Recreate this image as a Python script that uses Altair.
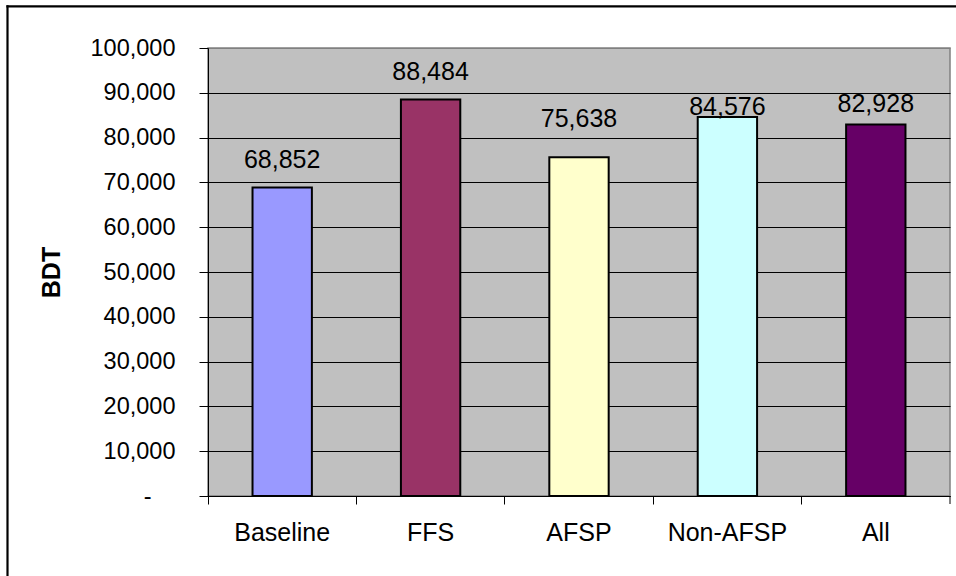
import altair as alt
import pandas as pd

# Mean household income by group (BDT)
groups = ["Baseline", "FFS", "AFSP", "Non-AFSP", "All"]
income = [68852, 88484, 75638, 84576, 82928]
bar_colors = ["#9999FF", "#993366", "#FFFFCC", "#CCFFFF", "#660066"]
y_ticks = [0, 10000, 20000, 30000, 40000, 50000, 60000, 70000, 80000, 90000, 100000]

# per-label vertical nudge of the value labels, in pixels
label_nudge = [-19.5, -19.6, -30, -2, -12.5]

W, H = 742, 448
FONT = "Liberation Sans"

df = pd.DataFrame({"group": groups, "income": income})

x_enc = alt.X(
    "group:N",
    sort=groups,
    scale=alt.Scale(paddingInner=0, paddingOuter=0),
    axis=alt.Axis(
        title=None,
        bandPosition=0,
        tickSize=8,
        tickColor="black",
        domainColor="black",
        labelPadding=16,
        labelFontSize=25,
        labelAngle=0,
        labelColor="black",
        labelFont=FONT,
        grid=False,
    ),
)

y_enc = alt.Y(
    "income:Q",
    scale=alt.Scale(domain=[0, 100000], nice=False),
    axis=alt.Axis(
        values=y_ticks,
        labelExpr="datum.value == 0 ? '-' : format(datum.value, ',')",
        tickSize=9,
        tickColor="black",
        domainColor="black",
        labelPadding={"condition": {"test": "datum.value === 0", "value": 48}, "value": 24},
        labelFontSize=23.5,
        labelColor="black",
        labelFont=FONT,
        grid=True,
        gridColor={"condition": {"test": "datum.value === 100000", "value": "#808080"}, "value": "black"},
        gridWidth=1,
        title="BDT",
        titleFont=FONT,
        titleFontSize=25,
        titleFontWeight="bold",
        titleColor="black",
        titleAngle=270,
        titleAlign="center",
        titleBaseline="middle",
        titleX=-157,
        titleY=224,
    ),
)

bars = alt.Chart(df).mark_bar(
    width=alt.RelativeBandSize(0.40), stroke="black", strokeWidth=2
).encode(
    x=x_enc,
    y=y_enc,
    color=alt.Color("group:N", sort=groups,
                    scale=alt.Scale(domain=groups, range=bar_colors), legend=None),
)

# value labels, one layer per group so each can carry its own offset
label_layers = []
for g, nudge in zip(groups, label_nudge):
    label_layers.append(
        alt.Chart(df).transform_filter(alt.datum.group == g).mark_text(
            font=FONT, fontSize=25, color="black", baseline="alphabetic",
            align="center", dy=nudge
        ).encode(
            x=alt.X("group:N", sort=groups),
            y=alt.Y("income:Q"),
            text=alt.Text("income:Q", format=","),
        )
    )

one = pd.DataFrame({"k": [0]})

# closing tick at the right end of the category axis
end_tick = alt.Chart(one).mark_rule(color="black", strokeWidth=1).encode(
    x=alt.value(W), y=alt.value(H), y2=alt.value(H + 8)
)

# outer frame (left and top edges)
frame_left = alt.Chart(one).mark_rule(color="black", strokeWidth=2.2).encode(
    x=alt.value(-200.5), y=alt.value(-42.8), y2=alt.value(528)
)
frame_top = alt.Chart(one).mark_rule(color="black", strokeWidth=2.2).encode(
    x=alt.value(-201.6), x2=alt.value(748), y=alt.value(-41.7)
)

chart = alt.layer(bars, *label_layers, end_tick, frame_left, frame_top).properties(
    width=W,
    height=H,
    autosize=alt.AutoSizeParams(type="none"),
    padding={"left": 208, "top": 48, "right": 6, "bottom": 80},
    background="white",
).configure_view(
    fill="#C0C0C0", stroke="#808080", strokeWidth=1.5
)

chart.save("out.html", embed_options={"renderer": "svg", "actions": False})
